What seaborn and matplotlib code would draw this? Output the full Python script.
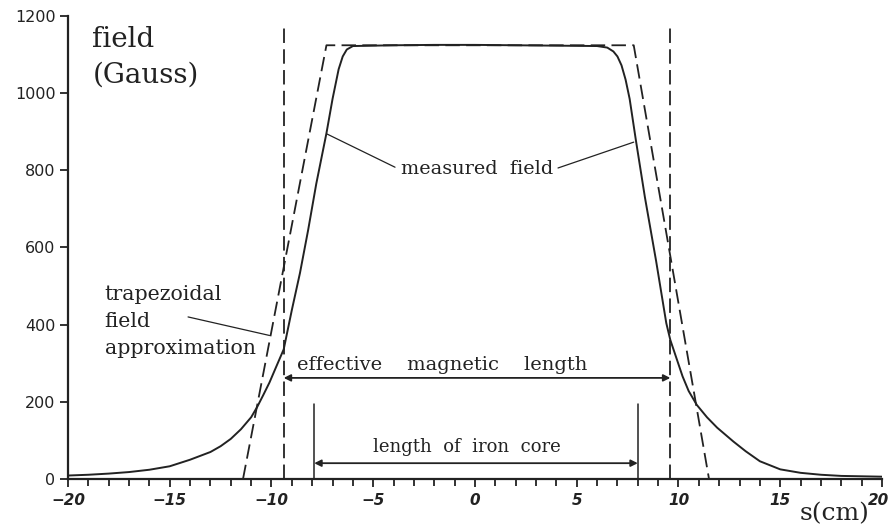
"""
Measured dipole field vs trapezoidal (hard-edge) approximation.
"""

import matplotlib
matplotlib.use("Agg")
import matplotlib.pyplot as plt
import matplotlib.transforms as mtransforms
from matplotlib.ticker import MultipleLocator
import seaborn as sns

# measured field profile B(s)
S_MEASURED = [-20, -19, -18, -17, -16, -15, -14, -13, -12.5, -12, -11.5, -11, -10.7,
              -10.4, -10.1, -9.8, -9.4, -9.0, -8.6, -8.2, -7.8, -7.3, -7.0, -6.7,
              -6.5, -6.3, -6.0, -4, -2, 0, 2, 4, 6.0, 6.5, 6.8, 7.0, 7.2, 7.4, 7.6,
              7.9, 8.35, 8.9, 9.4, 9.6, 10.2, 10.5, 10.9, 11.4, 11.9, 12.7, 13.3,
              14.0, 15, 16, 17, 18, 19, 20]
B_MEASURED = [9, 11, 14, 18, 24, 33, 50, 70, 85, 104, 129, 160, 187,
              218, 250, 287, 336, 438, 534, 645, 765, 896, 985, 1062,
              1095, 1113, 1122, 1124, 1125, 1125, 1124, 1123, 1122, 1118, 1108, 1095, 1072, 1035, 985,
              880, 730, 565, 404, 360, 266, 228, 192, 160, 133, 97, 72,
              46, 25, 16, 11, 8, 7, 6]

# hard-edge (trapezoidal) approximation
S_TRAPEZOID = [-11.4, -7.3, 7.8, 11.5]
B_TRAPEZOID = [0, 1124, 1124, 0]

# effective magnetic length edges and iron core edges (cm)
S_EFFECTIVE = [-9.4, 9.6]
S_IRON = [-7.9, 8.0]

X_TICKS = [-20, -15, -10, -5, 0, 5, 10, 15, 20]
Y_TICKS = [0, 200, 400, 600, 800, 1000, 1200]

INK = "#222222"
SERIF = "DejaVu Serif"

sns.set_theme(style="ticks")
plt.rcParams["font.family"] = ["DejaVu Sans"]

fig = plt.figure(figsize=(8.9, 5.28), dpi=100)
ax = fig.add_axes([0.0764, 0.0928, 0.9146, 0.877])

sns.lineplot(x=S_MEASURED, y=B_MEASURED, ax=ax, sort=False, estimator=None,
             color=INK, linewidth=1.4)
sns.lineplot(x=S_TRAPEZOID, y=B_TRAPEZOID, ax=ax, sort=False, estimator=None,
             color=INK, linewidth=1.3).lines[-1].set_dashes([8, 3.5])

for s in S_EFFECTIVE:
    ax.plot([s, s], [0, 1170], color=INK, linewidth=1.3, dashes=[8, 3.5], clip_on=False)
for s in S_IRON:
    ax.plot([s, s], [0, 195], color=INK, linewidth=1.1)

# length arrows
ax.annotate("", xy=(S_EFFECTIVE[0], 262), xytext=(S_EFFECTIVE[1], 262),
            arrowprops=dict(arrowstyle="<|-|>", color=INK, lw=1.3,
                            shrinkA=0, shrinkB=0, mutation_scale=10))
ax.annotate("", xy=(S_IRON[0], 41), xytext=(S_IRON[1], 41),
            arrowprops=dict(arrowstyle="<|-|>", color=INK, lw=1.3,
                            shrinkA=0, shrinkB=0, mutation_scale=10))

ax.text(-1.6, 295, "effective    magnetic    length", family=SERIF, fontsize=14,
        ha="center", va="center", color=INK)
ax.text(-0.4, 82, "length  of  iron  core", family=SERIF, fontsize=13,
        ha="center", va="center", color=INK)
ax.text(0.1, 803, "measured  field", family=SERIF, fontsize=13.9,
        ha="center", va="center", color=INK)
ax.text(-18.2, 408, "trapezoidal\nfield\napproximation", family=SERIF, fontsize=14.8,
        ha="left", va="center", linespacing=1.55, color=INK)
ax.text(-18.8, 1093, "field\n(Gauss)", family=SERIF, fontsize=20,
        ha="left", va="center", linespacing=1.45, color=INK)

# leader lines from the labels to the curves
leader = dict(arrowstyle="-", color=INK, lw=0.9, shrinkA=0, shrinkB=0)
ax.annotate("", xy=(-7.27, 894), xytext=(-3.93, 808), arrowprops=leader)
ax.annotate("", xy=(7.8, 873), xytext=(4.08, 806), arrowprops=leader)
ax.annotate("", xy=(-10.1, 372), xytext=(-14.1, 420), arrowprops=leader)

ax.set_xlim(-20, 20)
ax.set_ylim(0, 1200)
ax.set_xticks(X_TICKS)
ax.set_yticks(Y_TICKS)
ax.xaxis.set_minor_locator(MultipleLocator(1))
ax.set_xticklabels([f"{v:d}".replace("-", "\u2212") for v in X_TICKS],
                   fontstyle="italic", fontweight="bold", fontsize=11)
ax.set_yticklabels([str(v) for v in Y_TICKS], fontsize=11.5)
ax.tick_params(axis="both", which="both", direction="out", color=INK,
               labelcolor=INK, width=1.3)
ax.tick_params(axis="x", which="major", length=6, pad=4)
ax.tick_params(axis="x", which="minor", length=5)
ax.tick_params(axis="y", length=6, pad=3)

# keep the last x label inside the figure edge
last = ax.get_xticklabels()[-1]
last.set_horizontalalignment("right")
last.set_transform(last.get_transform()
                   + mtransforms.ScaledTranslation(5 / 72, 0, fig.dpi_scale_trans))

sns.despine(ax=ax)
for side in ("left", "bottom"):
    ax.spines[side].set_color(INK)
    ax.spines[side].set_linewidth(1.6)

ax.text(0.942, -0.075, "s(cm)", transform=ax.transAxes, family=SERIF,
        fontsize=18, ha="center", va="center", color=INK)

fig.savefig("out.png", dpi=100)
plt.close(fig)
